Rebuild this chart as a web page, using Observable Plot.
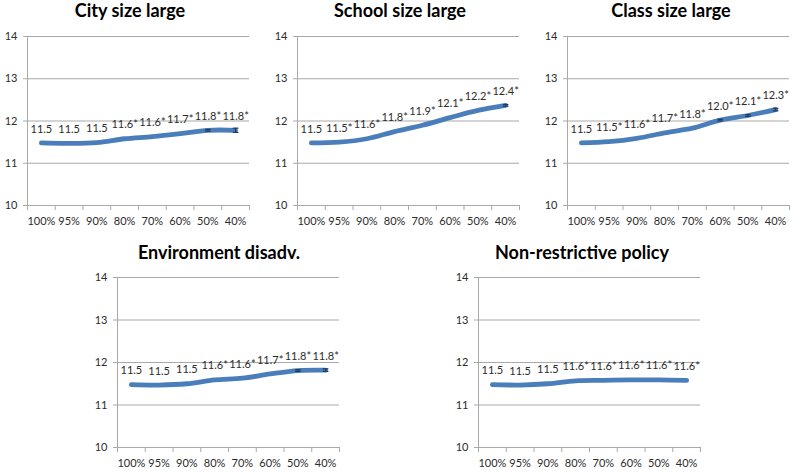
<!DOCTYPE html>
<html><head><meta charset="utf-8">
<script src="https://cdn.jsdelivr.net/npm/d3@7"></script>
<script src="https://cdn.jsdelivr.net/npm/@observablehq/plot@0.6"></script>
<style>
html,body{margin:0;padding:0;background:#fff;}
#chart{position:relative;width:800px;height:472px;overflow:hidden;font-family:Lato,sans-serif;}
.title{position:absolute;font-weight:700;font-size:18px;line-height:18px;color:#000;white-space:nowrap;transform:translateX(-50%);}
.panel{position:absolute;}
</style></head><body><div id="chart"></div>
<script>
// ---- data ----
const categories = ["100%","95%","90%","80%","70%","60%","50%","40%"];
const yTicks = [10, 11, 12, 13, 14];
const titles = ["City size large","School size large","Class size large","Environment disadv.","Non-restrictive policy"];

const cityValues   = [11.48, 11.47, 11.49, 11.58, 11.63, 11.70, 11.78, 11.78];
const cityLabels   = ["11.5","11.5","11.5","11.6*","11.6*","11.7*","11.8*","11.8*"];
const cityErrors   = [0, 0, 0, 0, 0, 0, 0.02, 0.05];

const schoolValues = [11.48, 11.50, 11.58, 11.75, 11.90, 12.08, 12.25, 12.37];
const schoolLabels = ["11.5","11.5*","11.6*","11.8*","11.9*","12.1*","12.2*","12.4*"];
const schoolErrors = [0, 0, 0, 0, 0, 0, 0, 0.02];

const classValues  = [11.48, 11.51, 11.59, 11.72, 11.83, 12.02, 12.13, 12.27];
const classLabels  = ["11.5","11.5*","11.6*","11.7*","11.8*","12.0*","12.1*","12.3*"];
const classErrors  = [0, 0, 0, 0, 0, 0.02, 0.02, 0.03];

const envValues    = [11.48, 11.47, 11.50, 11.59, 11.63, 11.73, 11.81, 11.82];
const envLabels    = ["11.5","11.5","11.5","11.6*","11.6*","11.7*","11.8*","11.8*"];
const envErrors    = [0, 0, 0, 0, 0, 0, 0.02, 0.03];

const policyValues = [11.48, 11.47, 11.50, 11.57, 11.58, 11.59, 11.59, 11.58];
const policyLabels = ["11.5","11.5","11.5","11.6*","11.6*","11.6*","11.6*","11.6*"];
const policyErrors = [0, 0, 0, 0, 0, 0, 0, 0];

// ---- layout ----
const layout = [
  {left: 0,   top: 26,  plotH: 169, titleX: 130, titleY: 1},
  {left: 270, top: 26,  plotH: 169, titleX: 400, titleY: 1},
  {left: 540, top: 26,  plotH: 169, titleX: 671, titleY: 1},
  {left: 90,  top: 267, plotH: 170, titleX: 219, titleY: 243},
  {left: 451, top: 267, plotH: 170, titleX: 582, titleY: 243}
];
const series = [
  [cityValues, cityLabels, cityErrors],
  [schoolValues, schoolLabels, schoolErrors],
  [classValues, classLabels, classErrors],
  [envValues, envLabels, envErrors],
  [policyValues, policyLabels, policyErrors]
];

const GRID = "#a9a9a9";
const TEXT = "#2b2b2b";
const LINE = "#4a7ebb";
const ERR = "#1f3a60";

function panel(values, labels, errors, plotH) {
  const data = categories.map((c, i) => ({i: i + 0.5, cat: c, v: values[i], label: labels[i], e: errors[i]}));
  const errs = data.filter(d => d.e > 0);
  const mt = 10, mb = 28;
  return Plot.plot({
    width: 259, height: mt + plotH + mb,
    marginLeft: 27, marginRight: 10, marginTop: mt, marginBottom: mb,
    x: {type: "linear", domain: [0, categories.length], axis: null},
    y: {domain: [10, 14], axis: null},
    style: {fontFamily: "Lato, sans-serif", fontSize: "11px", color: TEXT, background: "transparent", overflow: "visible"},
    marks: [
      Plot.ruleY(yTicks.slice(1), {stroke: GRID}),
      Plot.ruleY([10], {stroke: GRID}),
      Plot.ruleX([0], {stroke: GRID}),
      Plot.axisY(yTicks, {tickSize: 4, tickFormat: () => "", stroke: GRID, label: null}),
      Plot.axisY(yTicks, {tickSize: 0, tickPadding: 10, fill: TEXT, fontSize: 11, label: null}),
      Plot.axisX(d3.range(categories.length + 1), {tickSize: 5, tickFormat: () => "", stroke: GRID, label: null}),
      Plot.axisX(data.map(d => d.i), {tickSize: 0, tickPadding: 12, fill: TEXT, fontSize: 11, label: null,
        tickFormat: d => categories[Math.floor(d)]}),
      Plot.line(data, {x: "i", y: "v", stroke: LINE, strokeWidth: 4.8, curve: "catmull-rom", strokeLinecap: "round", strokeLinejoin: "round"}),
      Plot.ruleX(errs, {x: "i", y1: d => d.v - d.e, y2: d => d.v + d.e, stroke: ERR, strokeWidth: 1.2}),
      Plot.link(errs, {x1: d => d.i - 0.1, x2: d => d.i + 0.1, y1: d => d.v + d.e, y2: d => d.v + d.e, stroke: ERR, strokeWidth: 1.2}),
      Plot.link(errs, {x1: d => d.i - 0.1, x2: d => d.i + 0.1, y1: d => d.v - d.e, y2: d => d.v - d.e, stroke: ERR, strokeWidth: 1.2}),
      Plot.text(data, {x: "i", y: "v", text: "label", dy: -14, fill: TEXT, fontSize: 11})
    ]
  });
}

const chart = document.getElementById("chart");
series.forEach(([v, l, e], k) => {
  const L = layout[k];
  const wrap = document.createElement("div");
  wrap.className = "panel";
  wrap.style.left = L.left + "px";
  wrap.style.top = L.top + "px";
  wrap.appendChild(panel(v, l, e, L.plotH));
  chart.appendChild(wrap);
  const t = document.createElement("div");
  t.className = "title";
  t.textContent = titles[k];
  t.style.left = L.titleX + "px";
  t.style.top = L.titleY + "px";
  chart.appendChild(t);
});
</script>
</body></html>
